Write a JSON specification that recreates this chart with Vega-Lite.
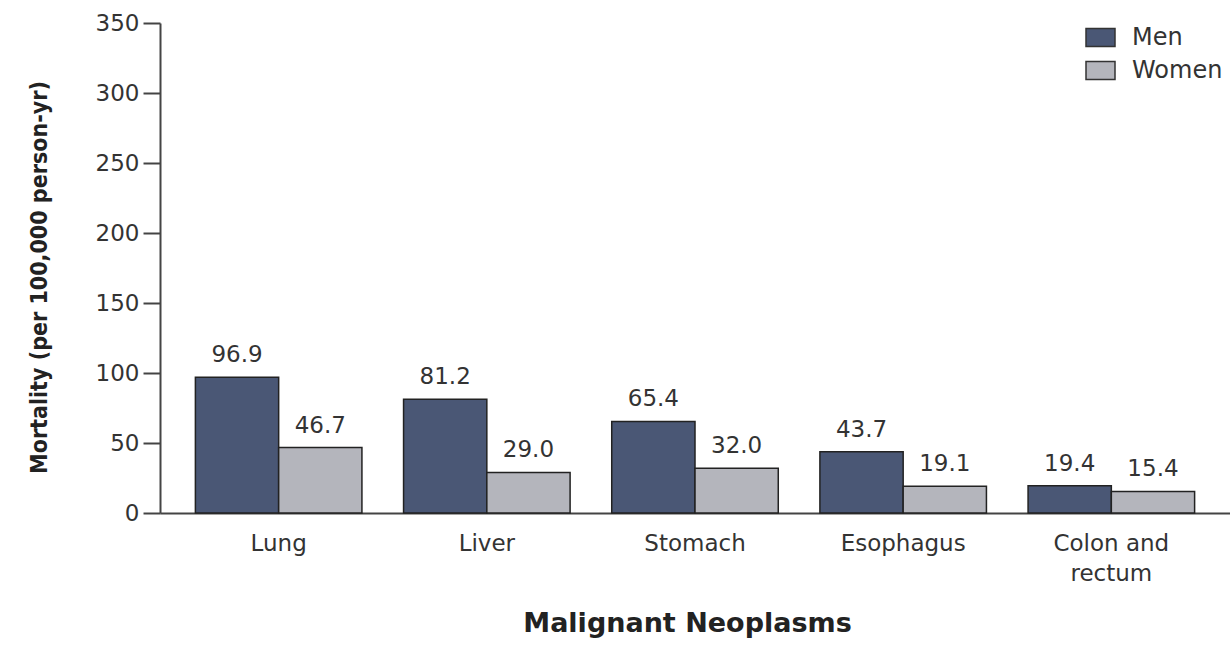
{
  "$schema": "https://vega.github.io/schema/vega-lite/v6.json",
  "width": 1070,
  "height": 490,
  "autosize": {"type": "none"},
  "padding": {"left": 160, "top": 23, "right": 0, "bottom": 134},
  "background": "white",
  "data": {
    "values": [
      {"site": "Lung", "sex": "Men", "rate": 96.9},
      {"site": "Lung", "sex": "Women", "rate": 46.7},
      {"site": "Liver", "sex": "Men", "rate": 81.2},
      {"site": "Liver", "sex": "Women", "rate": 29.0},
      {"site": "Stomach", "sex": "Men", "rate": 65.4},
      {"site": "Stomach", "sex": "Women", "rate": 32.0},
      {"site": "Esophagus", "sex": "Men", "rate": 43.7},
      {"site": "Esophagus", "sex": "Women", "rate": 19.1},
      {"site": "Colon and rectum", "sex": "Men", "rate": 19.4},
      {"site": "Colon and rectum", "sex": "Women", "rate": 15.4}
    ]
  },
  "encoding": {
    "x": {
      "field": "site",
      "type": "nominal",
      "sort": ["Lung", "Liver", "Stomach", "Esophagus", "Colon and rectum"],
      "scale": {"paddingInner": 0.2, "paddingOuter": 0.17},
      "title": "Malignant Neoplasms",
      "axis": {
        "labelAngle": 0,
        "labelFont": "DejaVu Sans",
        "labelFontSize": 23,
        "labelColor": "#333",
        "labelPadding": 19,
        "labelLineHeight": 30,
        "labelExpr": "datum.label == 'Colon and rectum' ? ['Colon and', 'rectum'] : datum.label",
        "ticks": false,
        "domainColor": "#444",
        "domainWidth": 2,
        "titleFont": "DejaVu Sans",
        "titleFontWeight": "bold",
        "titleFontSize": 27,
        "titleColor": "#222",
        "titlePadding": 25,
        "titleX": 527
      }
    },
    "xOffset": {
      "field": "sex",
      "type": "nominal",
      "sort": ["Men", "Women"],
      "scale": {"paddingInner": 0, "paddingOuter": 0}
    },
    "y": {
      "field": "rate",
      "type": "quantitative",
      "scale": {"domain": [0, 350]},
      "title": "Mortality (per 100,000 person-yr)",
      "axis": {
        "values": [0, 50, 100, 150, 200, 250, 300, 350],
        "grid": false,
        "labelFont": "DejaVu Sans",
        "labelFontSize": 23,
        "labelColor": "#333",
        "labelPadding": 4,
        "tickSize": 17,
        "tickWidth": 2,
        "tickColor": "#444",
        "domainColor": "#444",
        "domainWidth": 2,
        "titleFont": "DejaVu Sans Condensed",
        "titleFontSize": 23,
        "titleFontWeight": "bold",
        "titleColor": "#222",
        "titlePadding": 44,
        "titleY": 254
      }
    }
  },
  "layer": [
    {
      "mark": {"type": "bar", "stroke": "#222", "strokeWidth": 1.5},
      "encoding": {
        "color": {
          "field": "sex",
          "type": "nominal",
          "scale": {"domain": ["Men", "Women"], "range": ["#4a5775", "#b4b5bc"]},
          "legend": {
            "title": null,
            "orient": "none",
            "legendX": 925,
            "legendY": -1,
            "padding": 0,
            "symbolType": "M-1,-0.62H1V0.62H-1Z",
            "symbolSize": 841,
            "symbolStrokeColor": "#333",
            "symbolStrokeWidth": 1.5,
            "labelFont": "DejaVu Sans",
            "labelFontSize": 24,
            "labelColor": "#333",
            "labelOffset": 16,
            "rowPadding": 5,
            "labelLimit": 300
          }
        }
      }
    },
    {
      "mark": {
        "type": "text",
        "baseline": "bottom",
        "dy": -10,
        "font": "DejaVu Sans",
        "fontSize": 23,
        "color": "#333"
      },
      "encoding": {"text": {"field": "rate", "type": "quantitative", "format": ".1f"}}
    }
  ],
  "config": {"view": {"stroke": null}}
}
